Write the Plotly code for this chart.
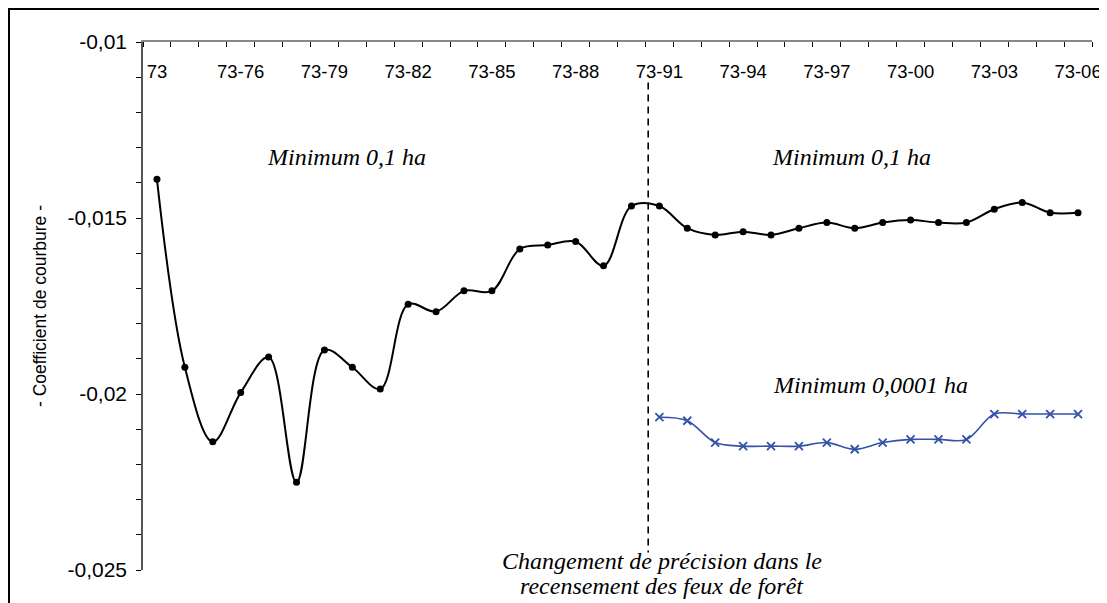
import plotly.graph_objects as go

# ---- data ----
categories = ["73"] + ["73-%02d" % (y % 100) for y in range(1974, 2007)]
tick_labels = categories[::3]

y_tick_values = [-0.025, -0.02, -0.015, -0.01]
y_tick_labels = ["-0,025", "-0,02", "-0,015", "-0,01"]

curv_01ha = [-0.01390, -0.01924, -0.02136, -0.01996, -0.01895, -0.02251, -0.01875,
             -0.01924, -0.01986, -0.01745, -0.01766, -0.01707, -0.01707, -0.01588,
             -0.01577, -0.01567, -0.01636, -0.01466, -0.01466, -0.01529, -0.01548,
             -0.01539, -0.01548, -0.01529, -0.01513, -0.01529, -0.01513, -0.01506,
             -0.01513, -0.01513, -0.01475, -0.01456, -0.01485, -0.01485]

curv_00001ha = [None] * 18 + [-0.02066, -0.02076, -0.02138, -0.02148, -0.02148, -0.02148,
                              -0.02138, -0.02157, -0.02138, -0.02129, -0.02129, -0.02129,
                              -0.02057, -0.02057, -0.02057, -0.02057]

change_position = 17.6   # boundary between 73-90 and 73-91 (precision change)

idx = list(range(len(categories)))

# plot-area geometry (px)
ML, MT, PW, PH = 135, 34, 949, 528
W, H = 1107, 603

fig = go.Figure()
fig.add_trace(go.Scatter(
    x=idx, y=curv_01ha, mode="lines+markers",
    line=dict(color="black", width=2, shape="spline", smoothing=1),
    marker=dict(color="black", size=7, symbol="circle"),
    name="Minimum 0,1 ha", cliponaxis=False))
fig.add_trace(go.Scatter(
    x=idx, y=curv_00001ha, mode="lines+markers", xaxis="x2",
    line=dict(color="#3352A8", width=1.6, shape="spline", smoothing=1),
    marker=dict(color="#3352A8", size=8, symbol="x-thin", line=dict(color="#3352A8", width=1.8)),
    name="Minimum 0,0001 ha", cliponaxis=False))

# vertical dashed line marking change
fig.add_shape(type="line", xref="x", yref="y", x0=change_position, x1=change_position,
              y0=-0.01115, y1=-0.0245, line=dict(color="black", width=1.6, dash="7px,5px"))

# outer chart border (figure edge)
fig.add_shape(type="rect", xref="paper", yref="paper",
              x0=(-ML + 1) / PW, x1=1.2, y0=-0.3, y1=1 + (MT - 1) / PH,
              line=dict(color="black", width=2), fillcolor="rgba(0,0,0,0)", layer="below")

ann_font = dict(family="Liberation Serif", size=24, color="black")
fig.add_annotation(x=6.8, y=-0.01327, text="<i>Minimum 0,1 ha</i>", showarrow=False, font=ann_font)
fig.add_annotation(x=24.9, y=-0.01327, text="<i>Minimum 0,1 ha</i>", showarrow=False, font=ann_font)
fig.add_annotation(x=25.55, y=-0.01974, text="<i>Minimum 0,0001 ha</i>", showarrow=False, font=ann_font)
fig.add_annotation(x=18.1, xref="x", yref="paper", y=-6 / PH,
                   text="<i>Changement de précision dans le</i>", showarrow=False, font=ann_font)
fig.add_annotation(x=18.1, xref="x", yref="paper", y=-31 / PH,
                   text="<i>recensement des feux de forêt</i>", showarrow=False, font=ann_font)

fig.update_layout(
    width=W, height=H,
    margin=dict(l=ML, r=W - ML - PW, t=MT, b=H - MT - PH, autoexpand=False),
    paper_bgcolor="white", plot_bgcolor="white",
    showlegend=False,
    font=dict(family="Liberation Sans", color="black"),
)

xrange = [-0.5, len(categories) - 0.5]
fig.update_layout(
    xaxis=dict(
        range=xrange, side="top", tickmode="array", tickvals=idx[::3], ticktext=[""] * len(tick_labels),
        ticks="", showticklabels=False,
        showgrid=False, zeroline=False,
        showline=True, linecolor="#888888", linewidth=2,
        minor=dict(tickmode="array", tickvals=[i - 0.5 for i in range(len(categories) + 1)],
                   ticks="inside", ticklen=5, tickcolor="black", tickwidth=1),
    ),
    xaxis2=dict(
        range=xrange, overlaying="x", anchor="free", position=(PH - 16) / PH, side="bottom",
        tickmode="array", tickvals=idx[::3], ticktext=tick_labels, ticks="",
        tickfont=dict(size=18.5), showline=False, showgrid=False, zeroline=False,
    ),
    yaxis=dict(
        range=[-0.025, -0.01], tickmode="array", tickvals=y_tick_values, ticktext=y_tick_labels,
        ticks="outside", ticklen=5, tickcolor="black", ticklabelstandoff=5,
        tickfont=dict(size=21),
        showgrid=False, zeroline=False,
        showline=True, linecolor="#555555", linewidth=1.5,
        minor=dict(tickmode="linear", tick0=-0.025, dtick=0.001, ticks="outside", ticklen=5, tickcolor="black"),
        title=dict(text="- Coefficient de courbure -", font=dict(size=17.5), standoff=16),
    ),
)

fig.write_html("out.html")
